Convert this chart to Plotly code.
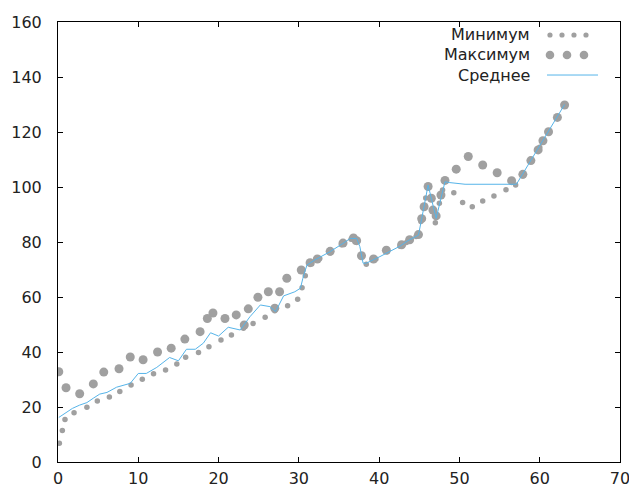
import plotly.graph_objects as go

# ---- data ----
min_x = [0.17, 0.54, 0.87, 2.0, 3.6, 4.9, 6.4, 7.7, 9.1, 10.5, 11.9, 13.4, 14.8, 15.9,
         17.5, 18.8, 20.3, 21.6, 23.1, 24.3, 25.8, 27.0, 28.6, 29.85, 30.4, 30.8, 31.6,
         32.6, 33.9, 35.3, 36.5, 37.0, 38.4, 39.6, 41.0, 42.6, 43.4, 44.6, 45.2, 45.5,
         45.8, 47.0, 47.5, 47.9, 49.3, 50.4, 51.6, 52.9, 54.3, 55.8, 57.0, 57.9, 59.0,
         60.0, 61.0, 62.1, 63.0]
min_y = [6.8, 11.5, 15.5, 17.9, 19.9, 22.2, 23.6, 25.6, 28.0, 30.1, 32.1, 33.5, 35.6, 38.1,
         39.8, 41.9, 44.4, 46.2, 48.6, 50.4, 52.6, 55.0, 56.8, 59.2, 63.4, 67.7, 72.0,
         74.0, 76.0, 79.0, 81.0, 80.0, 71.9, 73.8, 76.5, 78.5, 79.8, 82.0, 87.5, 92.5,
         96.0, 87.0, 94.1, 98.9, 97.9, 94.4, 92.8, 94.9, 96.7, 99.0, 100.7, 104.0, 109.5,
         114.5, 119.8, 125.0, 129.5]

max_x = [0.1, 1.0, 2.7, 4.4, 5.7, 7.6, 9.0, 10.6, 12.4, 14.1, 15.8, 17.7, 18.6, 19.3,
         20.8, 22.2, 23.2, 23.7, 24.9, 26.2, 27.0, 27.6, 28.5, 30.3, 31.4, 32.3, 33.9,
         35.5, 36.8, 37.2, 37.8, 39.3, 40.9, 42.8, 43.8, 44.9, 45.3, 45.6, 46.1, 46.5,
         46.7, 47.1, 47.7, 48.2, 49.6, 51.1, 52.9, 54.7, 56.5, 57.9, 58.9, 59.8, 60.4,
         61.1, 62.2, 63.1]
max_y = [32.8, 27.0, 24.8, 28.4, 32.7, 33.9, 38.2, 37.2, 40.0, 41.4, 44.7, 47.4, 52.2, 54.2,
         52.2, 53.5, 49.8, 55.7, 59.9, 61.9, 55.9, 61.9, 66.8, 69.8, 72.5, 73.8, 76.6,
         79.6, 81.5, 80.5, 75.0, 73.8, 77.0, 79.0, 80.8, 82.7, 88.5, 92.8, 100.2, 95.9,
         91.6, 89.5, 97.1, 102.4, 106.5, 111.1, 108.0, 105.2, 102.3, 104.6, 109.6, 113.5, 116.8,
         120.1, 125.3, 129.8]

mean_x = [0.1, 0.9, 1.8, 2.7, 3.6, 4.4, 5.2, 6.1, 7.3, 9.0, 10.0, 11.0, 12.3, 13.9, 15.0,
          16.0, 17.1, 18.1, 19.0, 20.0, 21.2, 22.7, 23.9, 25.2, 26.4, 27.1, 28.1, 29.5,
          30.2, 30.5, 31.0, 32.0, 33.9, 35.5, 36.4, 37.2, 37.6, 38.0, 38.4, 40.1, 42.6,
          43.6, 44.9, 45.3, 46.1, 47.1, 48.2, 48.8, 50.7, 57.1, 63.1]
mean_y = [16.2, 17.8, 19.5, 20.7, 21.6, 23.2, 24.7, 25.3, 27.2, 28.6, 32.2, 32.2, 34.4, 38.0,
          36.8, 41.0, 41.0, 43.2, 47.0, 45.8, 49.0, 48.0, 52.8, 57.1, 56.5, 54.7, 60.4, 61.9,
          63.2, 66.8, 71.6, 73.5, 76.5, 79.5, 81.3, 81.3, 78.3, 72.3, 72.3, 74.7, 78.5,
          80.5, 82.5, 88.5, 100.7, 88.6, 101.9, 101.6, 101.0, 101.0, 130.0]

names = ["Минимум", "Максимум", "Среднее"]
x_ticks = [0, 10, 20, 30, 40, 50, 60, 70]
y_ticks = [0, 20, 40, 60, 80, 100, 120, 140, 160]

GREY = "#a0a0a0"
BLUE = "#56b4e9"
FONT = "DejaVu Sans"

fig = go.Figure()
fig.add_trace(go.Scatter(x=min_x, y=min_y, mode="markers", name=names[0],
                         marker=dict(color=GREY, size=5.5, line=dict(width=0))))
fig.add_trace(go.Scatter(x=max_x, y=max_y, mode="markers", name=names[1],
                         marker=dict(color=GREY, size=9, line=dict(width=0))))
fig.add_trace(go.Scatter(x=mean_x, y=mean_y, mode="lines", name=names[2],
                         line=dict(color=BLUE, width=1)))

# gnuplot-style legend: text right-aligned, sample on the right
text_right = 0.8434
rows = [0.9705, 0.925, 0.8795]
annotations = []
shapes = []
for name, ry in zip(names, rows):
    annotations.append(dict(x=text_right, y=ry, xref="paper", yref="paper",
                            text=name, showarrow=False, xanchor="right",
                            yanchor="middle", font=dict(family=FONT, size=16, color="#222")))
for sx in [0.8754, 0.8968, 0.9181, 0.9395]:
    shapes.append(dict(type="circle", xref="paper", yref="paper", xsizemode="pixel",
                       ysizemode="pixel", xanchor=sx, yanchor=rows[0], x0=-2.6, x1=2.6,
                       y0=-2.6, y1=2.6, fillcolor=GREY, line=dict(width=0)))
for sx in [0.8754, 0.9057, 0.9359]:
    shapes.append(dict(type="circle", xref="paper", yref="paper", xsizemode="pixel",
                       ysizemode="pixel", xanchor=sx, yanchor=rows[1], x0=-4.3, x1=4.3,
                       y0=-4.3, y1=4.3, fillcolor=GREY, line=dict(width=0)))
shapes.append(dict(type="line", xref="paper", yref="paper", x0=0.8701, x1=0.9609,
                   y0=rows[2], y1=rows[2], line=dict(color=BLUE, width=1)))

axis_common = dict(showgrid=False, zeroline=False, showline=True, linecolor="black",
                   linewidth=1, mirror="ticks", ticks="inside", ticklen=5, tickwidth=1,
                   tickcolor="black", automargin=False, ticklabeloverflow="allow",
                   tickfont=dict(family=FONT, size=16, color="#222"))

fig.update_layout(
    width=629, height=488,
    margin=dict(l=58, r=9, t=22, b=26),
    paper_bgcolor="white", plot_bgcolor="white",
    showlegend=False,
    annotations=annotations, shapes=shapes,
    xaxis=dict(range=[0, 70], tickvals=x_ticks, ticklabelstandoff=2, **axis_common),
    yaxis=dict(range=[0, 160], tickvals=y_ticks, ticklabelstandoff=12, **axis_common),
)

fig.write_html("out.html")
